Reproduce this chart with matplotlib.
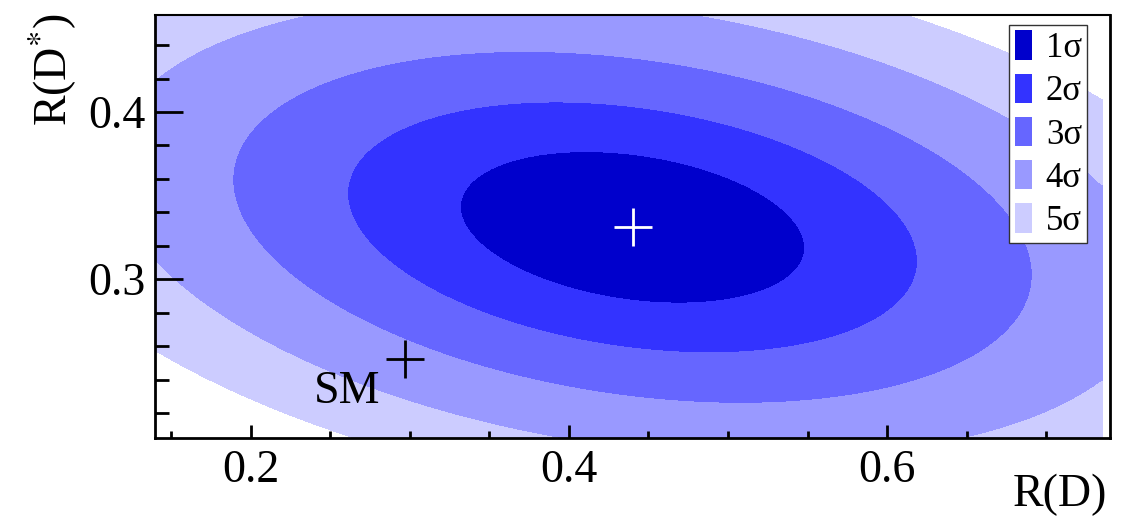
import numpy as np
import matplotlib
matplotlib.use("Agg")
import matplotlib.pyplot as plt
from matplotlib.patches import Patch
from matplotlib import ticker

plt.rcParams["font.family"] = "Liberation Serif"
plt.rcParams["mathtext.fontset"] = "stix"

best_fit = [0.440, 0.331]          # R(D), R(D*)
sigma = [0.0716, 0.030]
rho = -0.27
sm_point = [0.297, 0.252]

# delta chi2 at the 1..5 sigma contours
levels = [0.0, 2.28, 6.25, 12.3, 21.1, 31.4]
labels = ["1σ", "2σ", "3σ", "4σ", "5σ"]
colors = ["#0000cc", "#3333ff", "#6666ff", "#9999ff", "#ccccff"]


def delta_chi2(x, y):
    dx = (x - best_fit[0]) / sigma[0]
    dy = (y - best_fit[1]) / sigma[1]
    return (dx ** 2 - 2 * rho * dx * dy + dy ** 2) / (1 - rho ** 2)


fig = plt.figure(figsize=(11.29, 5.18), dpi=100)
ax = fig.add_axes([0.1373, 0.1544, 0.9832 - 0.1373, 0.971 - 0.1544])

gx = np.linspace(0.14, 0.735, 600)
gy = np.linspace(0.205, 0.458, 400)
X, Y = np.meshgrid(gx, gy)
ax.contourf(X, Y, delta_chi2(X, Y), levels=levels, colors=colors)

ax.plot(best_fit[0], best_fit[1], marker="+", color="white", ms=28, mew=2)
ax.plot(sm_point[0], sm_point[1], marker="+", color="black", ms=28, mew=2)
ax.text(0.2816, 0.2257, "SM", fontsize=33, ha="right", va="baseline")

ax.set_xlim(0.14, 0.74)
ax.set_ylim(0.205, 0.458)
ax.xaxis.set_major_locator(ticker.MultipleLocator(0.2))
ax.xaxis.set_minor_locator(ticker.MultipleLocator(0.05))
ax.yaxis.set_major_locator(ticker.MultipleLocator(0.1))
ax.yaxis.set_minor_locator(ticker.MultipleLocator(0.02))
ax.xaxis.set_major_formatter(ticker.FormatStrFormatter("%.1f"))
ax.yaxis.set_major_formatter(ticker.FormatStrFormatter("%.1f"))
ax.tick_params(which="both", direction="in", labelsize=33, width=2)
ax.tick_params(axis="y", which="major", length=20, pad=7)
ax.tick_params(axis="y", which="minor", length=10)
ax.tick_params(axis="x", which="major", length=9.5, pad=8)
ax.tick_params(axis="x", which="minor", length=5)
for s in ax.spines.values():
    s.set_linewidth(2)
ax.spines["top"].set_linewidth(1.5)

# legend: tall narrow colour boxes, like the ROOT one
handles = [Patch(facecolor=c, edgecolor="none", label=l)
           for c, l in zip(colors, labels)]
ax.legend(handles=handles, loc="upper right", bbox_to_anchor=(0.976, 0.976),
          borderaxespad=0, fontsize=25, handlelength=0.5, handleheight=0.92,
          handletextpad=0.4, labelspacing=0.25, borderpad=0.15,
          fancybox=False, framealpha=1, edgecolor="#333333")

fig.text(0.981, 0.004, "R(D)", fontsize=33, ha="right", va="bottom")
fig.text(0.047, 0.975, "R(D$^{*}$)", fontsize=33, ha="center", va="top",
         rotation=90)

fig.savefig("out.png", dpi=100)
